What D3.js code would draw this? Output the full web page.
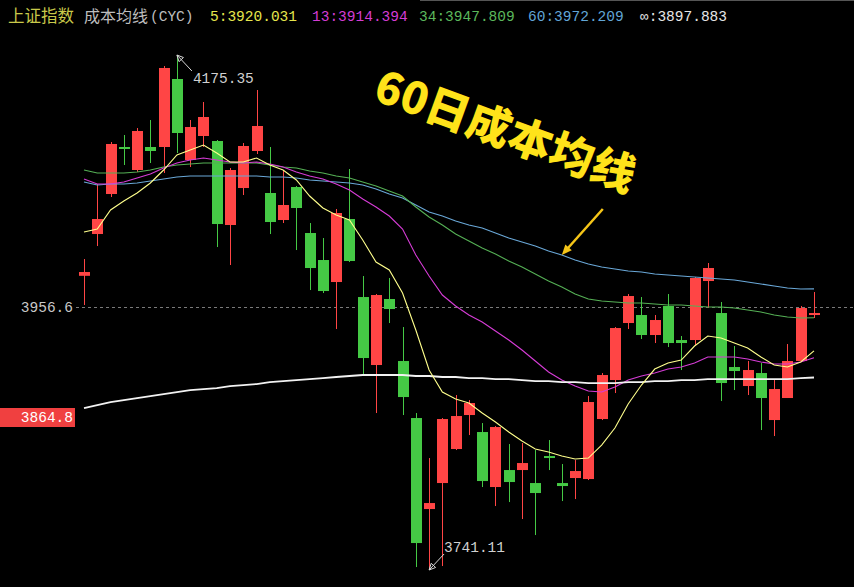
<!DOCTYPE html>
<html><head><meta charset="utf-8">
<script src="https://cdn.jsdelivr.net/npm/d3@7"></script>
<style>html,body{margin:0;padding:0;background:#000;overflow:hidden}</style>
</head><body><svg id="c" width="854" height="587"></svg>
<script>
// ---- data ----
const open = [
3983.30, 4018.97, 4053.40, 4094.24, 4074.20, 4094.24, 4094.24, 4154.04, 4082.90, 4103.85,
4099.48, 4026.70, 4058.59, 4090.75, 4054.27, 4030.99, 4059.46, 4019.83, 3996.75, 3978.04,
4031.85, 3965.34, 3908.26, 3963.65, 3911.59, 3864.33, 3790.06, 3811.13, 3838.87, 3866.81,
3852.81, 3807.89, 3821.71, 3821.71, 3811.13, 3833.14, 3811.13, 3815.20, 3814.38, 3863.51,
3895.77, 3943.42, 3950.15, 3933.34, 3957.74, 3929.14, 3929.14, 3978.89, 3951.83, 3906.59,
3890.79, 3901.59, 3862.68, 3880.85, 3911.59, 3950.15];
const close = [
3986.54, 4031.85, 4096.86, 4092.49, 4108.23, 4090.75, 4163.80, 4106.48, 4111.73, 4120.51,
4027.55, 4074.20, 4095.11, 4112.61, 4029.27, 4043.91, 4041.32, 3989.94, 3970.41, 4037.02,
3995.90, 3914.09, 3967.03, 3955.20, 3881.67, 3762.68, 3794.91, 3863.51, 3865.98, 3876.71,
3812.76, 3856.92, 3811.95, 3827.42, 3803.02, 3831.51, 3808.70, 3820.90, 3877.54, 3899.93,
3939.21, 3966.18, 3933.34, 3945.94, 3926.63, 3926.63, 3981.44, 3989.94, 3893.28, 3903.26,
3904.09, 3880.85, 3888.30, 3911.59, 3956.05, 3951.83];
const high = [
3997.60, 4062.06, 4098.60, 4104.73, 4110.85, 4117.87, 4165.57, 4175.35, 4117.87, 4133.71,
4100.35, 4075.94, 4097.73, 4144.30, 4094.24, 4074.20, 4060.32, 4028.41, 4015.54, 4040.46,
4075.07, 3983.14, 3967.88, 3981.44, 3940.05, 3868.46, 3831.51, 3864.33, 3883.33, 3879.19,
3860.21, 3857.74, 3842.96, 3843.78, 3838.05, 3846.24, 3826.61, 3829.87, 3882.50, 3901.59,
3940.05, 3967.88, 3965.34, 3950.15, 3967.88, 3932.50, 3982.29, 3994.20, 3961.11, 3924.12,
3911.59, 3909.92, 3895.77, 3925.79, 3957.74, 3969.57];
const low = [
3958.58, 4008.70, 4050.81, 4078.55, 4072.46, 4080.29, 4071.60, 4089.00, 4076.81, 4094.24,
4007.85, 3992.50, 4052.54, 4088.13, 4018.97, 4028.41, 4005.28, 3971.26, 3968.72, 3938.37,
3995.05, 3899.93, 3868.46, 3943.42, 3866.81, 3743.48, 3741.11, 3744.28, 3838.05, 3850.35,
3807.89, 3792.49, 3795.72, 3781.99, 3769.11, 3821.71, 3796.53, 3798.15, 3813.57, 3862.68,
3884.99, 3938.37, 3929.98, 3926.63, 3923.28, 3904.09, 3924.96, 3956.05, 3878.36, 3887.47,
3883.33, 3854.45, 3849.52, 3880.85, 3911.59, 3947.62];

const ma5 = [
4020.69, 4023.26, 4039.60, 4047.36, 4054.27, 4062.92, 4074.20, 4087.26, 4091.62, 4095.99,
4089.00, 4081.16, 4081.16, 4084.64, 4078.55, 4074.20, 4065.52, 4051.68, 4041.32, 4035.30,
4030.99, 4013.83, 3995.05, 3988.24, 3968.72, 3937.53, 3904.09, 3885.81, 3880.02, 3876.71,
3868.46, 3861.03, 3852.81, 3845.42, 3838.87, 3836.41, 3833.14, 3830.69, 3831.51, 3842.15,
3856.10, 3875.89, 3891.62, 3904.92, 3909.92, 3912.42, 3924.12, 3932.50, 3930.82, 3926.63,
3922.44, 3914.93, 3908.26, 3906.59, 3910.76, 3920.03];
const ma13 = [
4066.39, 4062.06, 4062.06, 4063.79, 4067.26, 4070.73, 4075.94, 4080.29, 4082.90, 4084.64,
4082.90, 4081.16, 4080.29, 4081.16, 4079.42, 4076.81, 4072.46, 4068.99, 4066.39, 4062.06,
4056.86, 4049.08, 4042.19, 4034.43, 4023.26, 4001.02, 3983.14, 3967.03, 3957.74, 3950.15,
3944.26, 3936.69, 3929.14, 3920.77, 3911.59, 3902.43, 3895.77, 3890.79, 3886.64, 3885.81,
3889.96, 3895.77, 3899.10, 3901.59, 3904.92, 3906.59, 3909.92, 3914.93, 3914.93, 3914.93,
3913.26, 3910.76, 3909.09, 3909.09, 3910.76, 3914.39];
const ma34 = [
4074.20, 4071.60, 4071.60, 4071.60, 4072.46, 4074.20, 4076.81, 4078.55, 4079.42, 4080.29,
4080.29, 4080.29, 4080.29, 4080.29, 4078.55, 4076.81, 4075.94, 4073.33, 4071.60, 4068.99,
4067.26, 4063.79, 4060.32, 4056.00, 4051.68, 4042.19, 4033.57, 4026.70, 4018.97, 4012.98,
4006.99, 4001.87, 3995.90, 3990.79, 3984.84, 3978.89, 3973.80, 3967.88, 3963.65, 3961.96,
3961.11, 3960.27, 3960.27, 3959.42, 3958.58, 3958.58, 3957.74, 3956.89, 3956.89, 3956.05,
3954.36, 3952.68, 3950.15, 3948.47, 3947.62, 3947.81];
const ma60 = [
4063.79, 4061.19, 4062.06, 4062.06, 4062.92, 4064.65, 4066.39, 4068.13, 4068.99, 4068.99,
4068.99, 4068.99, 4068.99, 4068.99, 4068.13, 4068.13, 4067.26, 4065.52, 4064.65, 4063.79,
4062.92, 4061.19, 4057.73, 4053.40, 4049.95, 4043.91, 4037.88, 4034.43, 4030.13, 4026.70,
4024.12, 4019.83, 4015.54, 4012.12, 4008.70, 4004.43, 4001.02, 3996.75, 3993.35, 3990.79,
3989.09, 3987.39, 3986.54, 3984.84, 3983.99, 3983.14, 3982.29, 3981.44, 3980.59, 3979.74,
3978.04, 3976.35, 3974.65, 3972.96, 3972.11, 3972.21];
const maInf = [
3872.58, 3875.06, 3877.54, 3879.19, 3880.85, 3882.50, 3884.16, 3885.81, 3887.47, 3888.30,
3889.13, 3890.79, 3891.62, 3892.45, 3894.11, 3894.94, 3895.77, 3896.60, 3897.43, 3898.27,
3899.10, 3899.93, 3899.93, 3899.93, 3899.93, 3899.10, 3899.10, 3898.27, 3898.27, 3897.43,
3897.43, 3896.60, 3896.60, 3895.77, 3894.94, 3894.94, 3894.11, 3894.11, 3893.28, 3893.28,
3893.28, 3894.11, 3894.11, 3894.94, 3894.94, 3895.77, 3895.77, 3896.60, 3896.60, 3896.60,
3896.60, 3896.60, 3896.60, 3896.60, 3897.43, 3897.88];

const maNames = ["5", "13", "34", "60", "∞"];
const maLast = ["3920.031", "3914.394", "3947.809", "3972.209", "3897.883"];
const markHigh = 4175.35, markLow = 3741.11;
const refPrice = 3956.6, cursorPrice = 3864.8;
const titleText = "上证指数", indText = "成本均线", indCode = "(CYC)";
const annoText = "60日成本均线";

// ---- styles ----
const UP = "#ff4545", DOWN = "#45c945";
const maColors = ["#ffff8c", "#d63cd6", "#55b055", "#6aa8d8", "#f2f2f2"];
const hdrColors = ["#e6e64d", "#d43cd4", "#5cb85c", "#62a6d6", "#e6e6e6"];
const MONO = "'Liberation Mono','DejaVu Sans Mono',monospace";
const CJK = "'Noto Sans CJK SC','Noto Sans',sans-serif";

const svg = d3.select("#c");
const W = 854, H = 587;
svg.append("rect").attr("width", W).attr("height", H).attr("fill", "#000");

const n = open.length;
const x = d3.scaleLinear().domain([0, n - 1]).range([84, 814]);
const y = d3.scaleLog().domain([markLow, markHigh]).range([570, 55]);

// top border
svg.append("line").attr("x1", 420).attr("x2", W).attr("y1", 0.5).attr("y2", 0.5)
  .attr("stroke", "#555").attr("stroke-width", 1);

// reference dashed line
const yRef = y(refPrice);
svg.append("line").attr("x1", 76).attr("x2", W).attr("y1", Math.round(yRef) + 0.5).attr("y2", Math.round(yRef) + 0.5)
  .attr("stroke", "#7a7a7a").attr("stroke-dasharray", "3,3");
svg.append("text").attr("x", 73).attr("y", yRef + 5).attr("text-anchor", "end")
  .attr("font-family", MONO).attr("font-size", 14.5).attr("fill", "#c8c8c8").text(refPrice.toFixed(1));

// cursor price box
const yCur = y(cursorPrice);
svg.append("rect").attr("x", 0).attr("y", Math.round(yCur) - 9).attr("width", 75).attr("height", 19).attr("fill", "#f04040");
svg.append("text").attr("x", 73).attr("y", yCur + 5).attr("text-anchor", "end")
  .attr("font-family", MONO).attr("font-size", 14.5).attr("fill", "#ffffff").text(cursorPrice.toFixed(1));

// candles
const gC = svg.append("g");
d3.range(n).forEach(i => {
  const cx = Math.round(x(i));
  const up = close[i] >= open[i];
  const col = up ? UP : DOWN;
  const yh = y(high[i]), yl = y(low[i]);
  gC.append("rect").attr("x", cx).attr("y", yh).attr("width", 1).attr("height", Math.max(1, yl - yh)).attr("fill", col);
  const yo = y(open[i]), yc = y(close[i]);
  const top = Math.min(yo, yc), h = Math.max(2, Math.abs(yo - yc));
  gC.append("rect").attr("x", cx - 5).attr("y", top).attr("width", 11).attr("height", h).attr("fill", col);
});

// cost MA lines
const line = d3.line().x((d, i) => x(i)).y(d => y(d));
[ma60, ma34, ma13, maInf, ma5].forEach((s, k) => {
  const ci = [3, 2, 1, 4, 0][k];
  svg.append("path").datum(s).attr("d", line).attr("fill", "none")
    .attr("stroke", maColors[ci]).attr("stroke-width", ci === 4 ? 1.8 : 1.1);
});

// high / low markers
function marker(i, v, dx, dy, label, tx, ty) {
  const px = x(i), py = y(v);
  const g = svg.append("g");
  g.append("line").attr("x1", px).attr("y1", py).attr("x2", px + dx).attr("y2", py + dy)
    .attr("stroke", "#d8d8d8").attr("stroke-width", 1);
  const ang = Math.atan2(dy, dx);
  const a1 = ang + 0.45, a2 = ang - 0.45, L = 7;
  g.append("path").attr("d", `M${px},${py}L${px + L * Math.cos(a1)},${py + L * Math.sin(a1)}L${px + L * Math.cos(a2)},${py + L * Math.sin(a2)}Z`)
    .attr("fill", "none").attr("stroke", "#d8d8d8").attr("stroke-width", 1);
  g.append("text").attr("x", px + tx).attr("y", py + ty).attr("font-family", MONO).attr("font-size", 14.5)
    .attr("fill", "#d0d0d0").text(label);
}
const iHi = high.indexOf(d3.max(high));
const iLo = low.indexOf(d3.min(low));
marker(iHi, high[iHi], 15, 16, markHigh.toFixed(2), 16, 28);
marker(iLo, low[iLo], 15, -16, markLow.toFixed(2), 15, -18);

// header
const hy = 22;
svg.append("text").attr("x", 8).attr("y", hy).attr("font-family", CJK).attr("font-size", 16.5)
  .attr("fill", "#c9c94a").text(titleText);
svg.append("text").attr("x", 84).attr("y", hy).attr("font-family", CJK).attr("font-size", 16)
  .attr("fill", "#bdbdbd").text(indText);
svg.append("text").attr("x", 150).attr("y", hy - 1).attr("font-family", MONO).attr("font-size", 14.5)
  .attr("fill", "#bdbdbd").text(indCode);
const hx = [210, 312, 419, 528, 640];
maNames.forEach((nm, k) => {
  svg.append("text").attr("x", hx[k]).attr("y", hy - 1).attr("font-family", MONO).attr("font-size", 14.5)
    .attr("fill", hdrColors[k]).text(nm + ":" + maLast[k]);
});

// annotation for 60-day cost line
const ai = 36;
const ax = x(ai), ay = y(ma60[ai]);
svg.append("text").attr("transform", `translate(500,146) rotate(20)`).attr("text-anchor", "middle")
  .attr("font-family", CJK).attr("font-weight", 900).attr("font-size", 44).attr("fill", "#ffe31a")
  .text(annoText);
const sx = ax + 41, sy = ay - 46;
const ang = Math.atan2(ay - sy, ax - sx);
svg.append("line").attr("x1", sx).attr("y1", sy).attr("x2", ax - 6 * Math.cos(ang)).attr("y2", ay - 6 * Math.sin(ang))
  .attr("stroke", "#f5c518").attr("stroke-width", 2.5);
const L2 = 11;
svg.append("path").attr("d", `M${ax},${ay}L${ax - L2 * Math.cos(ang + 0.4)},${ay - L2 * Math.sin(ang + 0.4)}L${ax - L2 * Math.cos(ang - 0.4)},${ay - L2 * Math.sin(ang - 0.4)}Z`)
  .attr("fill", "#f5c518");
</script>
</body></html>
